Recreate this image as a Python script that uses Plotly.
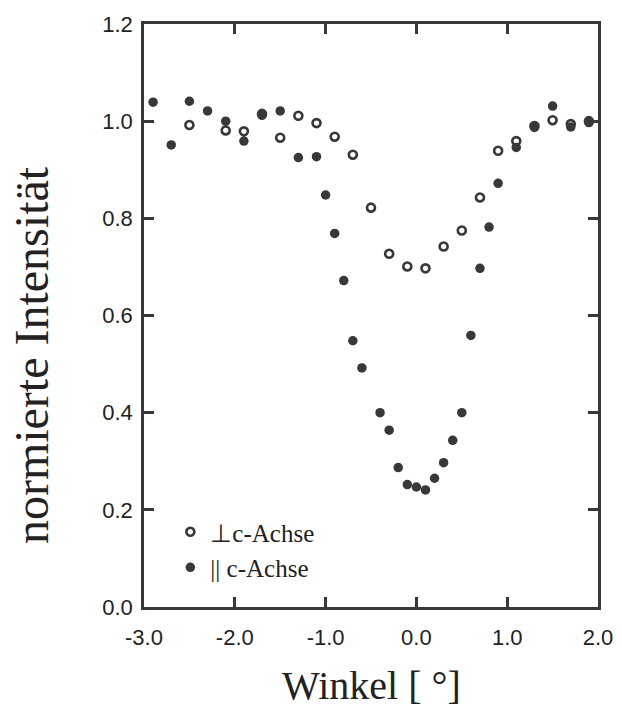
import plotly.graph_objects as go

# ⊥ c-Achse (open circles)
x_perp = [-2.5, -2.1, -1.9, -1.7, -1.5, -1.3, -1.1, -0.9, -0.7, -0.5, -0.3, -0.1,
          0.1, 0.3, 0.5, 0.7, 0.9, 1.1, 1.3, 1.5, 1.7, 1.9]
y_perp = [0.992, 0.981, 0.979, 1.015, 0.966, 1.011, 0.996, 0.968, 0.931, 0.822, 0.727, 0.701,
          0.697, 0.742, 0.775, 0.843, 0.939, 0.959, 0.990, 1.002, 0.994, 1.000]

# || c-Achse (filled circles)
x_par = [-2.9, -2.7, -2.5, -2.3, -2.1, -1.9, -1.7, -1.5, -1.3, -1.1, -1.0, -0.9, -0.8, -0.7,
         -0.6, -0.4, -0.3, -0.2, -0.1, 0.0, 0.1, 0.2, 0.3, 0.4, 0.5, 0.6, 0.7, 0.8, 0.9,
         1.1, 1.3, 1.5, 1.7, 1.9]
y_par = [1.039, 0.951, 1.041, 1.021, 1.000, 0.959, 1.012, 1.021, 0.925, 0.927, 0.848, 0.769,
         0.672, 0.548, 0.492, 0.400, 0.364, 0.287, 0.252, 0.247, 0.241, 0.265, 0.297, 0.343,
         0.400, 0.559, 0.697, 0.782, 0.872, 0.946, 0.987, 1.031, 0.988, 0.997]

x_ticks = [-3.0, -2.0, -1.0, 0.0, 1.0, 2.0]
y_ticks = [0.0, 0.2, 0.4, 0.6, 0.8, 1.0, 1.2]

x_title = "Winkel [ \u00b0]"
y_title = "normierte Intensität"

ink = "#383838"
txt = "#222222"
serif = "Liberation Serif, Times New Roman, serif"

fig = go.Figure()
fig.add_trace(go.Scatter(
    x=x_perp, y=y_perp, mode="markers", name="\u22a5c-Achse",
    marker=dict(symbol="circle-open", size=8, color=ink, line=dict(width=2.6, color=ink)),
))
fig.add_trace(go.Scatter(
    x=x_par, y=y_par, mode="markers", name="|| c-Achse",
    marker=dict(symbol="circle", size=9.5, color=ink, line=dict(width=0)),
))

axis_common = dict(
    showline=True, mirror="ticks", linecolor=ink, linewidth=2.5,
    ticks="inside", ticklen=10, tickwidth=2.5, tickcolor=ink,
    showgrid=False, zeroline=False, automargin=False,
    tickfont=dict(family="Liberation Sans, Arial, sans-serif", size=22, color=txt),
)

fig.update_xaxes(
    range=[-3.0, 2.0], tickvals=x_ticks, ticktext=[f"{v:.1f}" for v in x_ticks],
    ticklabelstandoff=9,
    **axis_common,
)
fig.update_yaxes(
    range=[0.0, 1.2], tickvals=y_ticks, ticktext=[f"{v:.1f}" for v in y_ticks],
    ticklabelstandoff=4,
    **axis_common,
)

fig.add_annotation(
    text=x_title, xref="paper", yref="paper", x=0.5, y=-0.134,
    xanchor="center", yanchor="middle", showarrow=False,
    font=dict(family=serif, size=40, color=txt),
)
fig.add_annotation(
    text=y_title, xref="paper", yref="paper", x=-0.249, y=0.432,
    xanchor="center", yanchor="middle", showarrow=False, textangle=-90,
    font=dict(family=serif, size=48, color=txt),
)

fig.update_layout(
    width=622, height=707,
    margin=dict(l=144, r=24, t=24, b=100),
    paper_bgcolor="white", plot_bgcolor="white",
    showlegend=True,
    legend=dict(
        x=0.058, y=0.168, xanchor="left", yanchor="top",
        bgcolor="rgba(0,0,0,0)", borderwidth=0,
        font=dict(family=serif, size=25, color=txt),
        itemwidth=30, tracegroupgap=0,
    ),
)

fig.write_html("out.html", config={"displayModeBar": False},
               post_script="document.body.style.margin='0px';")
